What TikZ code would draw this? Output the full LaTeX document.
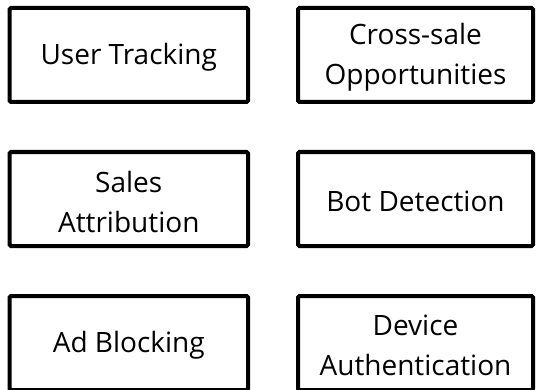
\documentclass[tikz,border=0pt]{standalone}
\usepackage{fontspec}
\setmainfont{Open Sans}
\begin{document}
\begin{tikzpicture}[x=1pt,y=-1pt,
  card/.style={draw=black, line width=4pt, rounded corners=1.5pt, fill=white,
    minimum width=238.5pt, minimum height=94pt, inner sep=0pt, anchor=center},
  wide/.style={card, minimum width=235pt},
  cardtext/.style={align=center, font=\fontsize{28}{40}\selectfont,
    inner sep=0pt, yshift=-2.7pt}]
  \clip (0,0) rectangle (537,390);
  \fill[white] (0,0) rectangle (537,390);
  % left column
  \node[card, label={[cardtext]center:User Tracking}] (track) at (128.75,55) {};
  \node[card, label={[cardtext]center:Sales\\Attribution}] (attr) at (128.75,199) {};
  \node[card, label={[cardtext]center:Ad Blocking}] (adblk) at (128.75,343) {};
  % right column
  \node[wide, label={[cardtext]center:Cross-sale\\Opportunities}] (cross) at (415.5,55) {};
  \node[wide, label={[cardtext]center:Bot Detection}] (bot) at (415.5,199) {};
  \node[wide, label={[cardtext]center:Device\\Authentication}] (device) at (415.5,343) {};
\end{tikzpicture}
\end{document}
